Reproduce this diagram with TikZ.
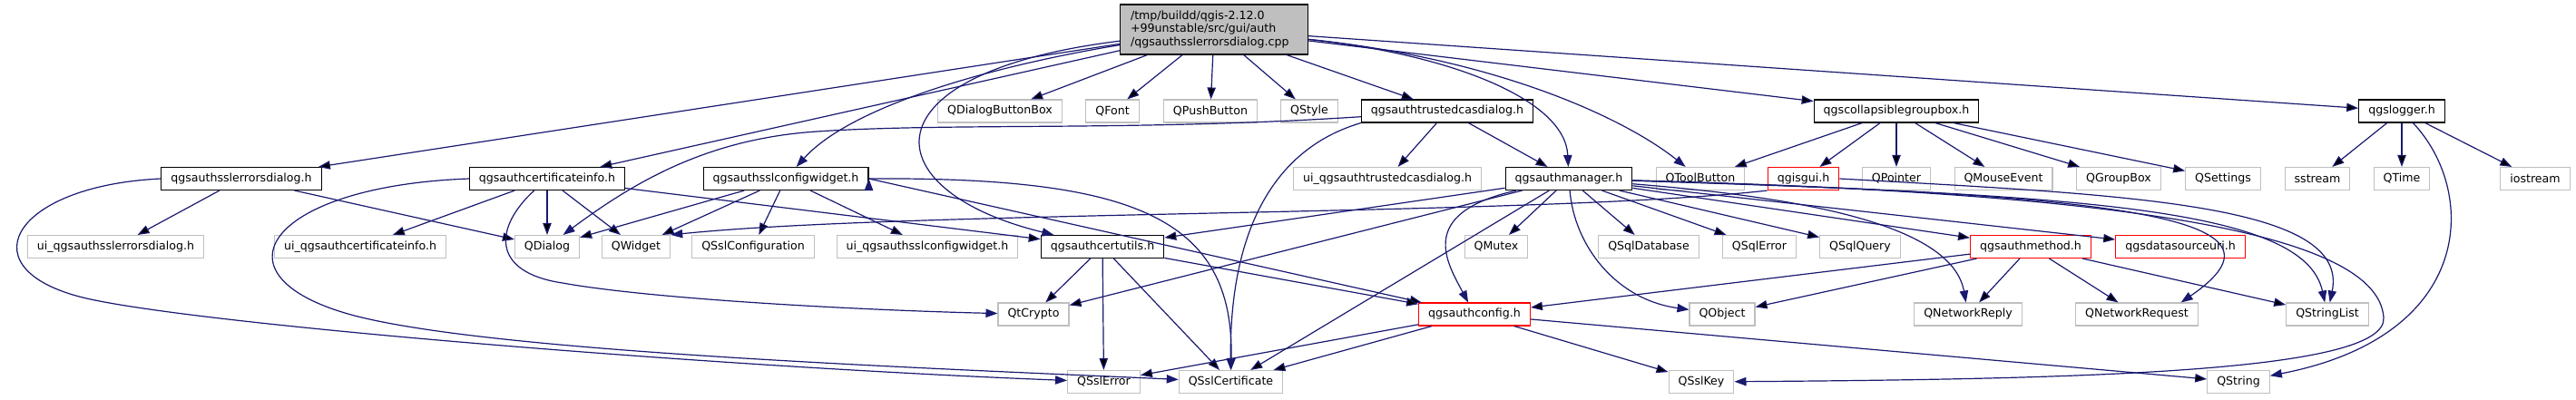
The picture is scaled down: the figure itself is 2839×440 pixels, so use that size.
\documentclass[tikz,border=0pt]{standalone}
\usepackage{fontspec}
\setmainfont{DejaVu Sans}
\usetikzlibrary{arrows.meta}
\definecolor{edgeblue}{HTML}{191970}
\definecolor{grey75}{HTML}{BFBFBF}

\begin{document}
\begin{tikzpicture}[x=0.75pt, y=-0.75pt, ->, >={Triangle[length=9.75pt,width=7pt]},
  filebox/.style={rectangle, fill=white, line width=0.8pt, minimum height=18.75pt,
    inner xsep=7.9pt, inner ysep=0pt, font=\fontsize{9.45}{10.7}\selectfont},
  docbox/.style={filebox, draw=black},
  extbox/.style={filebox, draw=grey75},
  redbox/.style={filebox, draw=red},
  rootbox/.style={filebox, draw=black, fill=grey75, align=left, text width=138pt,
    minimum height=41.25pt, inner xsep=8.6pt},
  dep/.style={draw=edgeblue, line width=0.9pt}]

  \useasboundingbox (0,0) rectangle (2839,440);

  \node[rootbox] (cpp) at (1338,32.5) {/tmp/buildd/qgis-2.12.0\\+99unstable/src/gui/auth\\/qgsauthsslerrorsdialog.cpp};

  % row 2
  \node[extbox] (qdbb)    at (1102,122.5) {QDialogButtonBox};
  \node[extbox] (qfont)   at (1226,122.5) {QFont};
  \node[extbox] (qpush)   at (1334,122.5) {QPushButton};
  \node[extbox] (qstyle)  at (1443,122.5) {QStyle};
  \node[docbox] (trusted) at (1595,122.5) {qgsauthtrustedcasdialog.h};
  \node[docbox] (grpbox)  at (2090,122.5) {qgscollapsiblegroupbox.h};
  \node[docbox] (logger)  at (2647,122.5) {qgslogger.h};

  % row 3
  \node[docbox] (errdlg)    at (266,197)   {qgsauthsslerrorsdialog.h};
  \node[docbox] (certinfo)  at (603,197)   {qgsauthcertificateinfo.h};
  \node[docbox] (sslcfg)    at (866,197)   {qgsauthsslconfigwidget.h};
  \node[extbox] (uitrust)   at (1529,197)  {ui\_qgsauthtrustedcasdialog.h};
  \node[docbox] (mgr)       at (1729,197)  {qgsauthmanager.h};
  \node[extbox] (qtoolbtn)  at (1874,197)  {QToolButton};
  \node[redbox] (qgisgui)   at (1987.5,197) {qgisgui.h};
  \node[extbox] (qpointer)  at (2090,197)  {QPointer};
  \node[extbox] (qmouse)    at (2208,197)  {QMouseEvent};
  \node[extbox] (qgroupbox) at (2335,197)  {QGroupBox};
  \node[extbox] (qsettings) at (2450,197)  {QSettings};
  \node[extbox] (sstream)   at (2554,197)  {sstream};
  \node[extbox] (qtime)     at (2647,197)  {QTime};
  \node[extbox] (iostream)  at (2794,197)  {iostream};

  % row 4
  \node[extbox] (uierr)      at (127.5,272) {ui\_qgsauthsslerrorsdialog.h};
  \node[extbox] (uicert)     at (397,272)   {ui\_qgsauthcertificateinfo.h};
  \node[extbox] (qdialog)    at (603,272)   {QDialog};
  \node[extbox] (qwidget)    at (701,272)   {QWidget};
  \node[extbox] (qsslcfg)    at (830,272)   {QSslConfiguration};
  \node[extbox] (uissl)      at (1022,272)  {ui\_qgsauthsslconfigwidget.h};
  \node[docbox] (certutils)  at (1215,272)  {qgsauthcertutils.h};
  \node[extbox] (qmutex)     at (1649,272)  {QMutex};
  \node[extbox] (qsqldb)     at (1817,272)  {QSqlDatabase};
  \node[extbox] (qsqlerr)    at (1939,272)  {QSqlError};
  \node[extbox] (qsqlquery)  at (2050,272)  {QSqlQuery};
  \node[redbox] (authmethod) at (2238,272)  {qgsauthmethod.h};
  \node[redbox] (dsuri)      at (2403,272)  {qgsdatasourceuri.h};

  % row 5
  \node[extbox] (qtcrypto)   at (1139,346.5) {QtCrypto};
  \node[redbox] (authconfig) at (1625,346.5) {qgsauthconfig.h};
  \node[extbox] (qobject)    at (1898,346.5) {QObject};
  \node[extbox] (qnreply)    at (2169,346.5) {QNetworkReply};
  \node[extbox] (qnrequest)  at (2355,346.5) {QNetworkRequest};
  \node[extbox] (qstrlist)   at (2565,346.5) {QStringList};

  % row 6
  \node[extbox] (qsslerr)  at (1216.5,421) {QSslError};
  \node[extbox] (qsslcert) at (1356.5,421) {QSslCertificate};
  \node[extbox] (qsslkey)  at (1875,421)   {QSslKey};
  \node[extbox] (qstring)  at (2467,421)   {QString};

  \path[dep] (cpp) edge (errdlg) edge (certinfo) edge (qdbb) edge (qfont) edge (qpush)
                   edge (qstyle) edge (trusted) edge (grpbox) edge (logger)
        (errdlg) edge (uierr) edge (qdialog)
        (certinfo) edge (uicert) edge (qdialog) edge (qwidget) edge (certutils)
        (sslcfg) edge (qdialog) edge (qwidget) edge (qsslcfg) edge (uissl)
        (sslcfg.east) edge (authconfig)
        (trusted) edge (uitrust) edge (mgr)
        (mgr) edge (certutils) edge (qtcrypto) edge (qsslcert) edge (qmutex) edge (qsqldb)
              edge (qsqlerr) edge (qsqlquery) edge (authmethod) edge (dsuri)
        (grpbox) edge (qtoolbtn) edge (qgisgui) edge (qpointer) edge (qmouse)
                 edge (qgroupbox) edge (qsettings)
        (logger) edge (sstream) edge (qtime) edge (iostream)
        (certutils) edge (qtcrypto) edge (qsslerr) edge (qsslcert) edge (authconfig)
        (authmethod) edge (authconfig) edge (qobject) edge (qnreply) edge (qnrequest)
                     edge (qstrlist)
        (authconfig) edge (qsslerr) edge (qsslcert) edge (qsslkey) edge (qstring);

  % curved includes
  \draw[dep] (cpp) .. controls (1080,75) and (935,120) .. (sslcfg);
  \draw[dep] (cpp) .. controls (950,80) and (960,210) .. (certutils);
  \draw[dep] (cpp) .. controls (1600,60) and (1725,110) .. (mgr);
  \draw[dep] (cpp) .. controls (1650,65) and (1790,130) .. (qtoolbtn);
  \draw[dep] (trusted) .. controls (1250,145) and (1050,135) .. (900,145)
                       .. controls (780,153) and (700,200) .. (qdialog);
  \draw[dep] (trusted.south west) .. controls (1400,165) and (1355,260) .. (qsslcert);
  \draw[dep] (sslcfg.east) .. controls (1250,195) and (1360,240) .. (qsslcert);
  \draw[dep] (errdlg.west) .. controls (10,205) and (-40,300) .. (100,330)
                           .. controls (240,360) and (800,405) .. (qsslerr);
  \draw[dep] (certinfo.west) .. controls (300,205) and (230,300) .. (380,345)
                             .. controls (520,387) and (1000,405) .. (qsslcert);
  \draw[dep] (certinfo) .. controls (545,250) and (540,300) .. (620,312)
                        .. controls (720,330) and (950,342) .. (qtcrypto);
  \draw[dep] (mgr) .. controls (1560,235) and (1595,290) .. (authconfig);
  \draw[dep] (mgr) .. controls (1735,270) and (1780,330) .. (qobject);
  \draw[dep] (mgr) .. controls (1950,215) and (2150,240) .. (qnreply);
  \draw[dep] (mgr) .. controls (2350,215) and (2540,240) .. (qnrequest.15);
  \draw[dep] (mgr) .. controls (2300,215) and (2540,230) .. (qstrlist);
  \draw[dep] (mgr) .. controls (2300,212) and (2620,250) .. (2627,350)
                   .. controls (2632,410) and (2300,418) .. (qsslkey);
  \draw[dep] (qgisgui.east) .. controls (2350,215) and (2590,225) .. (qstrlist);
  \draw[dep] (qgisgui.south west) .. controls (1700,238) and (1000,232) .. (qwidget.north east);
  \draw[dep] (logger) .. controls (2730,210) and (2730,370) .. (qstring);

\end{tikzpicture}
\end{document}
